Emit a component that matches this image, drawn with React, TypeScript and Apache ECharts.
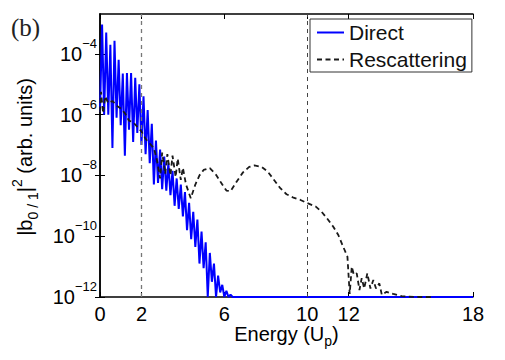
import React, { useEffect, useRef } from 'react';
import * as echarts from 'echarts';

// tick positions
const xTicks = [0, 2, 6, 10, 12, 18];
const yTicks = [-12, -10, -8, -6, -4]; // log10 exponents
const refLines = [2, 10];

// Direct: energy (Up) and log10 |b|^2
const directEnergy = [
  0.0, 0.1, 0.2, 0.3, 0.4, 0.5, 0.6, 0.7, 0.8, 0.9,
  1.0, 1.1, 1.2, 1.3, 1.4, 1.5, 1.6, 1.7, 1.8, 1.9,
  2.0, 2.1, 2.2, 2.3, 2.4, 2.5, 2.6, 2.7, 2.8, 2.9,
  3.0, 3.1, 3.2, 3.3, 3.4, 3.5, 3.6, 3.7, 3.8, 3.9,
  4.0, 4.1, 4.2, 4.3, 4.4, 4.5, 4.6, 4.7, 4.8, 4.9,
  5.0, 5.1, 5.2, 5.3, 5.4, 5.5, 5.6, 5.7, 5.8, 5.9,
  6.0, 6.1, 6.2, 6.3, 6.4, 18.0,
];
const directExp = [
  -5.9, -3.04, -6.0, -3.3, -6.0, -3.7, -7.1, -3.57, -6.1, -4.2,
  -6.35, -4.65, -7.35, -4.63, -6.5, -4.63, -6.9, -4.79, -6.6, -5.0,
  -7.0, -5.4, -7.3, -5.85, -7.6, -6.3, -8.3, -6.85, -8.25, -7.15,
  -8.45, -7.38, -8.5, -7.6, -8.65, -7.85, -9.0, -8.1, -9.1, -8.3,
  -9.35, -8.55, -9.8, -8.9, -10.1, -9.2, -10.35, -9.45, -10.9, -9.85,
  -11.05, -10.2, -12, -10.55, -11.5, -10.9, -12, -11.3, -11.85, -11.6,
  -12, -11.8, -12, -11.92, -12, -12,
];

// Rescattering
const rescEnergy = [
  0.0, 0.05, 0.15, 0.25, 0.4, 0.6, 0.8, 1.0, 1.2, 1.4,
  1.6, 1.8, 2.0, 2.2, 2.4, 2.6, 2.75, 2.9, 3.0, 3.15,
  3.25, 3.4, 3.5, 3.65, 3.75, 3.9, 4.0, 4.15, 4.38, 4.6,
  4.8, 5.0, 5.3, 5.6, 5.9, 6.1, 6.3, 6.6, 6.9, 7.2,
  7.45, 7.8, 8.1, 8.4, 8.7, 9.0, 9.3, 9.65, 10.0, 10.4,
  10.7, 10.95, 11.25, 11.5, 11.7, 11.94, 12.05, 12.15, 12.25, 12.39,
  12.52, 12.63, 12.75, 12.9, 13.05, 13.19, 13.32, 13.48, 13.6, 13.83,
  14.15, 14.56, 14.9, 15.5, 16.0,
];
const rescExp = [
  -5.9, -5.25, -5.95, -5.4, -5.62, -5.55, -5.7, -5.8, -5.95, -6.2,
  -6.25, -6.4, -6.55, -6.8, -6.95, -7.1, -7.5, -8.1, -7.25, -7.95,
  -7.3, -8.0, -7.35, -8.05, -7.45, -8.15, -7.75, -8.3, -8.75, -8.3,
  -8.0, -7.82, -7.76, -7.98, -8.3, -8.5, -8.52, -8.2, -7.9, -7.72,
  -7.67, -7.72, -7.88, -8.15, -8.42, -8.62, -8.72, -8.8, -8.91, -9.02,
  -9.2, -9.41, -9.68, -9.96, -10.29, -10.67, -11.9, -11.0, -11.27, -11.22,
  -11.77, -11.38, -11.72, -11.22, -11.72, -11.44, -11.72, -11.55, -11.93, -11.83,
  -11.9, -11.97, -11.99, -12, -12,
];

const FONT = '"Liberation Sans", Arial, Helvetica, sans-serif';
const Y_MIN = -12;
const Y_MAX = -2.69;

export default function App() {
  const ref = useRef<HTMLDivElement>(null);

  useEffect(() => {
    if (!ref.current) return;
    const chart = echarts.init(ref.current, null, { renderer: 'svg' });

    const directData = directEnergy.map((e, i) => [e, directExp[i]]);
    const rescData = rescEnergy.map((e, i) => [e, rescExp[i]]);

    const expLabel = (v: number) => {
      const n = Math.round(v);
      return `{b|10}{s|${n < 0 ? '\u2212' : ''}${Math.abs(n)}}`;
    };

    const axisLineStyle = { color: '#000', width: 1.5 };
    const tickStyle = { color: '#000', width: 1 };

    chart.setOption({
      animation: false,
      backgroundColor: '#fff',
      grid: { left: 100, right: 32, top: 14, bottom: 63, containLabel: false },
      xAxis: [
        {
          type: 'value',
          min: 0,
          max: 18,
          position: 'bottom',
          axisLine: { show: true, lineStyle: axisLineStyle },
          axisTick: { show: true, inside: true, length: 5, customValues: xTicks, lineStyle: tickStyle },
          axisLabel: { show: true, customValues: xTicks, fontSize: 20, color: '#000', fontFamily: FONT, margin: 7 },
          splitLine: { show: false },
          name: 'Energy (U{sub|p})',
          nameLocation: 'middle',
          nameGap: 23,
          nameMoveOverlap: false,
          nameTextStyle: {
            fontSize: 20,
            color: '#000',
            fontFamily: FONT,
            lineHeight: 28,
            rich: { sub: { fontSize: 14, lineHeight: 14, verticalAlign: 'bottom', fontFamily: FONT, color: '#000' } },
          },
        },
        {
          type: 'value',
          min: 0,
          max: 18,
          position: 'top',
          axisLine: { show: true, lineStyle: axisLineStyle },
          axisTick: { show: true, inside: true, length: 5, customValues: xTicks, lineStyle: tickStyle },
          axisLabel: { show: false },
          splitLine: { show: false },
        },
      ],
      yAxis: [
        {
          type: 'value',
          min: Y_MIN,
          max: Y_MAX,
          position: 'left',
          axisLine: { show: true, lineStyle: axisLineStyle },
          axisTick: { show: true, inside: true, length: 5, customValues: yTicks, lineStyle: tickStyle },
          axisLabel: {
            show: true,
            customValues: yTicks,
            margin: 3,
            formatter: expLabel,
            color: '#000',
            fontFamily: FONT,
            rich: {
              b: { fontSize: 20, lineHeight: 34, fontFamily: FONT, color: '#000' },
              s: { fontSize: 13, lineHeight: 13, verticalAlign: 'top', fontFamily: FONT, color: '#000' },
            },
          },
          splitLine: { show: false },
        },
        {
          type: 'value',
          min: Y_MIN,
          max: Y_MAX,
          position: 'right',
          axisLine: { show: true, lineStyle: axisLineStyle },
          axisTick: { show: true, inside: true, length: 5, customValues: yTicks, lineStyle: tickStyle },
          axisLabel: { show: false },
          splitLine: { show: false },
        },
      ],
      legend: {
        orient: 'vertical',
        left: 310,
        top: 19,
        padding: [3, 5, 2, 6],
        itemGap: 6,
        itemWidth: 27,
        itemHeight: 14,
        backgroundColor: '#fff',
        borderColor: '#333',
        borderWidth: 1,
        borderRadius: 0,
        itemStyle: { opacity: 0 },
        textStyle: { fontSize: 21, lineHeight: 21, color: '#111', fontFamily: FONT },
        data: ['Direct', 'Rescattering'],
      },
      graphic: [
        {
          type: 'text',
          left: 11,
          top: 15,
          style: { text: '(b)', font: '25px "Liberation Serif", "Times New Roman", serif', fill: '#222' },
        },
        {
          type: 'text',
          x: 25,
          y: 157,
          rotation: Math.PI / 2,
          style: {
            text: '|b{sub|0 / 1}|{sup|2} (arb. units)',
            align: 'center',
            verticalAlign: 'middle',
            fontSize: 20,
            fontFamily: FONT,
            fill: '#000',
            lineHeight: 30,
            rich: {
              sub: { fontSize: 14, lineHeight: 14, verticalAlign: 'bottom', fontFamily: FONT, fill: '#000' },
              sup: { fontSize: 14, lineHeight: 14, verticalAlign: 'top', fontFamily: FONT, fill: '#000' },
            },
          },
        },
      ],
      series: [
        {
          name: 'Direct',
          type: 'line',
          data: directData,
          showSymbol: false,
          symbol: 'none',
          symbolSize: 0,
          clip: false,
          lineStyle: { color: '#0000ff', width: 2 },
          itemStyle: { color: '#0000ff' },
          z: 3,
          markLine: {
            silent: true,
            symbol: ['none', 'none'],
            label: { show: false },
            animation: false,
            data: refLines.map((v, i) => ({
              xAxis: v,
              lineStyle: { color: i === 0 ? '#777' : '#444', width: i === 0 ? 1.3 : 1, type: [4, 4] },
            })),
          },
        },
        {
          name: 'Rescattering',
          type: 'line',
          data: rescData,
          showSymbol: false,
          symbol: 'none',
          symbolSize: 0,
          clip: false,
          lineStyle: { color: '#1a1a1a', width: 1.8, type: [5, 3.5] },
          itemStyle: { color: '#1a1a1a' },
          z: 4,
        },
      ],
    });

    return () => chart.dispose();
  }, []);

  return <div ref={ref} style={{ position: 'absolute', left: 0, top: 0, width: 505, height: 360 }} />;
}
